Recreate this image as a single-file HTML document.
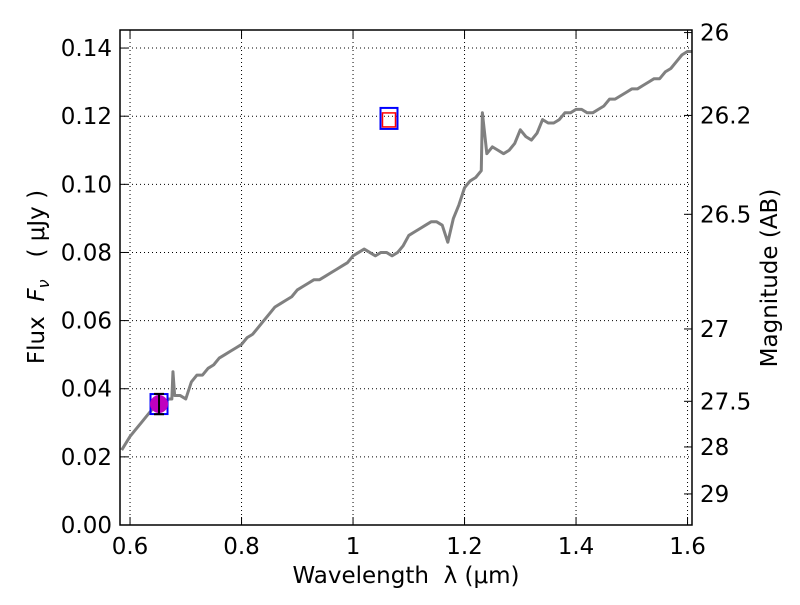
<!DOCTYPE html>
<html><head><meta charset="utf-8"><style>
body{margin:0;background:#fff;}
svg text{font-family:"DejaVu Sans","Liberation Sans",sans-serif;fill:#000;white-space:pre;}
</style></head><body>
<svg id="chart" width="800" height="600" xmlns="http://www.w3.org/2000/svg">
<rect width="800" height="600" fill="#fff"/>
<g id="grid"></g>
<g id="spec"></g>
<g id="marks"></g>
<rect x="120" y="30" width="572" height="495" fill="none" stroke="#000" stroke-width="1.5"/>
<g id="axes"></g>
<text x="406" y="583" font-size="23" text-anchor="middle">Wavelength  λ (μm)</text>
<text transform="translate(44,277) rotate(-90)" font-size="23" text-anchor="middle">Flux  <tspan font-style="italic">F</tspan><tspan font-style="italic" font-size="16" dy="5">ν</tspan><tspan dy="-5">   ( μJy )</tspan></text>
<text transform="translate(777,278) rotate(-90)" font-size="23" text-anchor="middle">Magnitude (AB)</text>
</svg>
<script>
const specWave=[0.585,0.6,0.61,0.62,0.63,0.64,0.65,0.66,0.67,0.675,0.677,0.68,0.69,0.70,0.71,0.72,0.73,0.74,0.75,0.76,0.77,0.78,0.79,0.80,0.81,0.82,0.83,0.84,0.85,0.86,0.87,0.88,0.89,0.90,0.91,0.92,0.93,0.94,0.95,0.96,0.97,0.98,0.99,1.00,1.01,1.02,1.03,1.04,1.05,1.06,1.07,1.08,1.09,1.10,1.11,1.12,1.13,1.14,1.15,1.16,1.17,1.18,1.19,1.20,1.21,1.22,1.23,1.232,1.24,1.25,1.26,1.27,1.28,1.29,1.30,1.31,1.32,1.33,1.34,1.35,1.36,1.37,1.38,1.39,1.40,1.41,1.42,1.43,1.44,1.45,1.46,1.47,1.48,1.49,1.50,1.51,1.52,1.53,1.54,1.55,1.56,1.57,1.58,1.59,1.60,1.607];
const specFlux=[0.022,0.026,0.028,0.030,0.032,0.034,0.035,0.036,0.037,0.037,0.045,0.038,0.038,0.037,0.042,0.044,0.044,0.046,0.047,0.049,0.050,0.051,0.052,0.053,0.055,0.056,0.058,0.060,0.062,0.064,0.065,0.066,0.067,0.069,0.070,0.071,0.072,0.072,0.073,0.074,0.075,0.076,0.077,0.079,0.080,0.081,0.080,0.079,0.080,0.080,0.079,0.080,0.082,0.085,0.086,0.087,0.088,0.089,0.089,0.088,0.083,0.090,0.094,0.099,0.101,0.102,0.104,0.121,0.109,0.111,0.110,0.109,0.110,0.112,0.116,0.114,0.113,0.115,0.119,0.118,0.118,0.119,0.121,0.121,0.122,0.122,0.121,0.121,0.122,0.123,0.125,0.125,0.126,0.127,0.128,0.128,0.129,0.130,0.131,0.131,0.133,0.134,0.136,0.138,0.139,0.139];
const photWave=[0.652,1.0645];
const photFlux=[0.0355,0.1192];
const photErr=[0.003,0];
const xTicks=[0.6,0.8,1.0,1.2,1.4,1.6];
const xTickLabels=["0.6","0.8","1","1.2","1.4","1.6"];
const yTicks=[0,0.02,0.04,0.06,0.08,0.10,0.12,0.14];
const yTickLabels=["0.00","0.02","0.04","0.06","0.08","0.10","0.12","0.14"];
const magTicks=[26,26.2,26.5,27,27.5,28,29];
const magTickLabels=["26","26.2","26.5","27","27.5","28","29"];

const X0=120,X1=692,Y0=525,Y1=30,xmin=0.582,xmax=1.608,ymin=0,ymax=0.1453;
const sx=v=>X0+(v-xmin)/(xmax-xmin)*(X1-X0);
const sy=v=>Y0-(v-ymin)/(ymax-ymin)*(Y0-Y1);
const NS="http://www.w3.org/2000/svg";
function mk(tag,parent,attrs){const e=document.createElementNS(NS,tag);for(const k in attrs)e.setAttribute(k,attrs[k]);parent.appendChild(e);return e;}
const grid=document.getElementById('grid'),axes=document.getElementById('axes');
xTicks.forEach((t,i)=>{
  const x=sx(t);
  const g=mk('line',grid,{x1:x,x2:x,y1:Y1,y2:Y0,stroke:'#000','stroke-width':1,'stroke-dasharray':'1,3'});
  
  
  mk('line',axes,{x1:x,x2:x,y1:Y0,y2:Y0-8,stroke:'#000'});
  mk('line',axes,{x1:x,x2:x,y1:Y1,y2:Y1+8,stroke:'#000'});
  const tx=mk('text',axes,{x:x,y:Y0+29,'font-size':23,'text-anchor':'middle'});
  
  
  tx.textContent=xTickLabels[i];
});
yTicks.forEach((t,i)=>{
  const y=sy(t);
  const g=mk('line',grid,{x1:X0,x2:X1,y1:y,y2:y,stroke:'#000','stroke-width':1,'stroke-dasharray':'1,3'});
  
  
  mk('line',axes,{x1:X0,x2:X0+8,y1:y,y2:y,stroke:'#000'});
  const tx=mk('text',axes,{x:X0-8,y:y+8,'font-size':23,'text-anchor':'end'});
  
  
  tx.textContent=yTickLabels[i];
});
magTicks.forEach((m,i)=>{
  const f=Math.pow(10,(23.9-m)/2.5);
  const y=sy(f);
  mk('line',axes,{x1:X1-8,x2:X1,y1:y,y2:y,stroke:'#000'});
  const tx=mk('text',axes,{x:X1+8,y:y+8,'font-size':23,'text-anchor':'start'});
  
  
  tx.textContent=magTickLabels[i];
});
const spec=document.getElementById('spec');
const pl=mk('polyline',spec,{points:specWave.map((w,i)=>sx(w)+','+sy(specFlux[i])).join(' '),fill:'none',stroke:'#808080','stroke-width':3,'stroke-linejoin':'round'});


const marks=document.getElementById('marks');
{
  const x=sx(photWave[0]),y=sy(photFlux[0]);
  const sq=mk('rect',marks,{x:x-8.5,y:y-10,width:17,height:20,fill:'none',stroke:'#0000ff','stroke-width':2});
  
  
  const c=mk('circle',marks,{cx:x,cy:y,r:9,fill:'#bf00bf'});
  
  
  const yt=sy(photFlux[0]+photErr[0]),yb=sy(photFlux[0]-photErr[0]);
  const eb=mk('path',marks,{d:`M${x},${yt}V${yb}M${x-5},${yt}H${x+5}M${x-5},${yb}H${x+5}`,stroke:'#000','stroke-width':2,fill:'none'});
  
  
}
{
  const x=sx(photWave[1]),y=sy(photFlux[1]);
  const sq=mk('rect',marks,{x:x-8.5,y:y-11,width:17,height:21,fill:'none',stroke:'#0000ff','stroke-width':2});
  
  
  const r=mk('rect',marks,{x:x-6.5,y:y-6,width:13,height:14,fill:'none',stroke:'#ff0000','stroke-width':1.5});
  
  
}
</script>
</body></html>
